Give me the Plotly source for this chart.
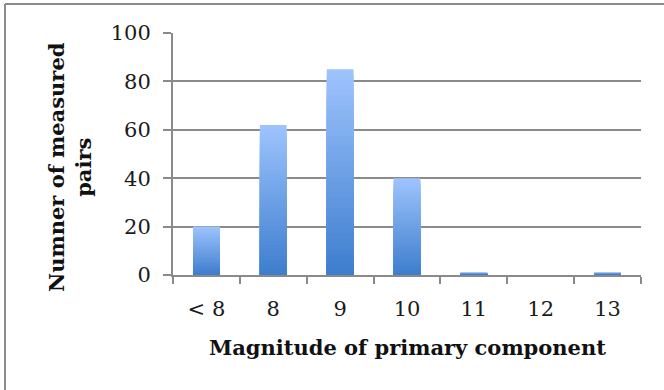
import plotly.graph_objects as go

categories = ["< 8", "8", "9", "10", "11", "12", "13"]
pairs = [20, 62, 85, 40, 1, 0, 1]
y_ticks = [0, 20, 40, 60, 80, 100]

W, H = 664, 390
L, R, T, B = 173, 23, 33, 115
pw, ph = W - L - R, H - T - B

def px_x(px):
    return (px - L) / pw

def px_y(py):
    return 1 - (py - T) / ph

top_c = (157, 195, 253)
bot_c = (62, 126, 206)
N = 40

fig = go.Figure()
for k in range(N):
    f = k / (N - 1)
    c = tuple(round(top_c[i] + (bot_c[i] - top_c[i]) * f) for i in range(3))
    fig.add_trace(go.Bar(
        x=categories,
        y=[v * (N - k) / N for v in pairs],
        marker=dict(color="rgb(%d,%d,%d)" % c, line=dict(width=0)),
        hoverinfo="skip",
        showlegend=False,
    ))

grid = "#8a8a8a"
font_family = "DejaVu Serif"

fig.update_layout(
    width=W, height=H,
    margin=dict(l=L, r=R, t=T, b=B, pad=0),
    paper_bgcolor="white", plot_bgcolor="white",
    barmode="overlay", bargap=0.6,
    showlegend=False,
    font=dict(family=font_family, color="#1a1a1a"),
)
fig.update_xaxes(
    type="category",
    showgrid=False,
    showline=True, linecolor=grid, linewidth=2,
    ticks="outside", tickson="boundaries", ticklen=7, tickwidth=1.5, tickcolor=grid,
    tickfont=dict(size=21, family=font_family, color="#1a1a1a"),
    ticklabelstandoff=14,
)
fig.update_yaxes(
    range=[0, 100], tickvals=y_ticks,
    showgrid=True, gridcolor=grid, gridwidth=2,
    showline=True, linecolor=grid, linewidth=2,
    ticks="outside", ticklen=8, tickwidth=2, tickcolor=grid,
    tickfont=dict(size=21, family=font_family, color="#1a1a1a"),
    ticklabelstandoff=8,
    zeroline=False,
)

fig.add_annotation(
    text="<b>Magnitude of primary component</b>",
    xref="paper", yref="paper", x=px_x(407), y=px_y(347),
    xanchor="center", yanchor="middle", showarrow=False,
    font=dict(size=21, family=font_family, color="#111111"),
)
fig.add_annotation(
    text="<b>Numner of measured<br>pairs</b>",
    xref="paper", yref="paper", x=px_x(70), y=px_y(167),
    xanchor="center", yanchor="middle", showarrow=False, textangle=-90,
    font=dict(size=21, family=font_family, color="#111111"),
)

# frame (top and left edges of the chart border)
fig.add_shape(type="line", xref="paper", yref="paper",
              x0=px_x(5), x1=px_x(664), y0=px_y(4), y1=px_y(4),
              line=dict(color="#8c8c8c", width=2))
fig.add_shape(type="line", xref="paper", yref="paper",
              x0=px_x(5), x1=px_x(5), y0=px_y(4), y1=px_y(390),
              line=dict(color="#8c8c8c", width=2))

fig.write_html("out.html")
